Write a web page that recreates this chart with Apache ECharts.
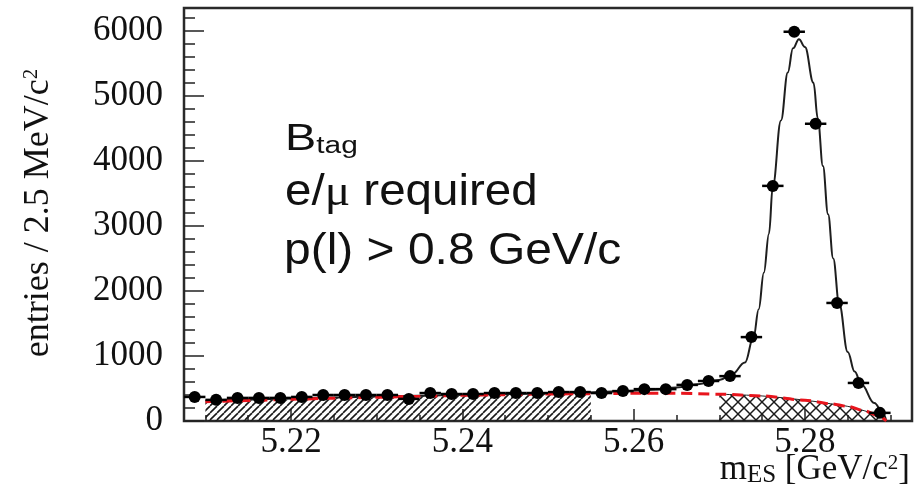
<!DOCTYPE html>
<html>
<head>
<meta charset="utf-8">
<script src="https://cdn.jsdelivr.net/npm/echarts@6/dist/echarts.min.js"></script>
<style>
  html, body { margin: 0; padding: 0; background: #fff; }
  #chart { width: 923px; height: 495px; }
</style>
</head>
<body>
<div id="chart"></div>
<script>
// m_ES histogram: bin centres (GeV/c^2, 2.5 MeV bins) and entries per bin
const binCenters = [5.20875, 5.21125, 5.21375, 5.21625, 5.21875, 5.22125, 5.22375, 5.22625,
  5.22875, 5.23125, 5.23375, 5.23625, 5.23875, 5.24125, 5.24375, 5.24625, 5.24875, 5.25125,
  5.25375, 5.25625, 5.25875, 5.26125, 5.26375, 5.26625, 5.26875, 5.27125, 5.27375, 5.27625,
  5.27875, 5.28125, 5.28375, 5.28625, 5.28875];
const entries = [370, 325, 355, 355, 355, 370, 400, 400, 400, 400, 340, 430, 415, 415, 430,
  430, 430, 445, 445, 430, 460, 490, 490, 555, 615, 690, 1290, 3615, 5985, 4570, 1815, 585, 125];
const binHalfWidth = 0.00125;

// Total fit (signal + background)
const fitMass = [5.2100, 5.2150, 5.2200, 5.2250, 5.2300, 5.2350, 5.2400, 5.2450, 5.2500, 5.2550,
  5.2600, 5.2625, 5.2650, 5.2675, 5.2700, 5.2715, 5.2730, 5.2740, 5.2746, 5.2752, 5.2758, 5.27625,
  5.2772, 5.2780, 5.2786, 5.2793, 5.2800, 5.2810, 5.2815, 5.2821, 5.2827, 5.2833, 5.2840,
  5.2850, 5.2858, 5.2866, 5.2881, 5.2891, 5.2895];
const fitValue = [310, 330, 345, 360, 375, 390, 405, 415, 425, 440,
  465, 485, 515, 565, 630, 720, 900, 1290, 1720, 2280, 2880, 3615,
  4620, 5360, 5730, 5870, 5750, 5200, 4650, 3920, 3180, 2500, 1800,
  1060, 760, 560, 277, 123, 0];

// ARGUS background component
const bkgMass = [5.2100, 5.2150, 5.2200, 5.2250, 5.2300, 5.2350, 5.2400, 5.2450, 5.2500, 5.2550,
  5.2600, 5.2650, 5.2700, 5.2750, 5.2800, 5.2830, 5.2850, 5.2870, 5.2885, 5.2895];
const bkgValue = [295, 315, 335, 350, 365, 380, 395, 405, 415, 420,
  425, 427, 412, 385, 320, 265, 225, 155, 85, 0];

// Sideband and signal-region windows
const sideband = [5.21, 5.255];
const signalRegion = [5.27, 5.2895];

// Axis ticks
const yTicks = [0, 1000, 2000, 3000, 4000, 5000, 6000];
const yMinorTicks = [200, 400, 600, 800, 1200, 1400, 1600, 1800, 2200, 2400, 2600, 2800,
  3200, 3400, 3600, 3800, 4200, 4400, 4600, 4800, 5200, 5400, 5600, 5800, 6200];
const xTicks = [5.22, 5.24, 5.26, 5.28];
const xMinorTicks = [5.21, 5.215, 5.225, 5.23, 5.235, 5.245, 5.25, 5.255, 5.265, 5.27, 5.275, 5.285, 5.29];

const zip = (xs, ys) => xs.map((x, i) => [x, ys[i]]);
const histData = zip(binCenters, entries);
const fitData = zip(fitMass, fitValue);
const bkgData = zip(bkgMass, bkgValue);
const sidebandData = bkgData.filter(p => p[0] >= sideband[0] && p[0] <= sideband[1]);
const signalData = bkgData.filter(p => p[0] >= signalRegion[0] && p[0] <= signalRegion[1]);

// Hatch tiles used as repeating fill patterns
function makeHatch(size, dirs, width) {
  const c = document.createElement('canvas');
  c.width = size; c.height = size;
  const g = c.getContext('2d');
  g.strokeStyle = '#1a1a1a';
  g.lineWidth = width;
  dirs.forEach(d => {
    [-1, 0, 1].forEach(k => {
      g.beginPath();
      if (d === '/') { g.moveTo(k * size, size); g.lineTo(k * size + size, 0); }
      else { g.moveTo(k * size, 0); g.lineTo(k * size + size, size); }
      g.stroke();
    });
  });
  return c;
}
const hatchSingle = makeHatch(7, ['/'], 1.6);
const hatchCross = makeHatch(12, ['/', '\\'], 1.5);

const serif = "'Liberation Serif', 'DejaVu Serif', serif";
const sans = "'Liberation Sans', Arial, sans-serif";
const ink = '#111';

const chart = echarts.init(document.getElementById('chart'), null, { renderer: 'canvas' });

chart.setOption({
  animation: false,
  backgroundColor: '#fff',
  grid: { left: 184, right: 11, top: 8, bottom: 74, show: true, borderColor: '#2a2a2a', borderWidth: 2.5, backgroundColor: 'transparent' },
  xAxis: [
    {
      type: 'value', min: 5.2075, max: 5.2925,
      axisLine: { show: false },
      splitLine: { show: false },
      axisTick: { show: true, inside: true, length: 12, customValues: xTicks, lineStyle: { color: '#222', width: 1.5 } },
      axisLabel: { show: true, customValues: xTicks, margin: 4, fontFamily: serif, fontSize: 35, color: ink,
        formatter: v => v.toFixed(2) }
    },
    {
      type: 'value', min: 5.2075, max: 5.2925, position: 'bottom',
      axisLine: { show: false }, splitLine: { show: false }, axisLabel: { show: false },
      axisTick: { show: true, inside: true, length: 6, customValues: xMinorTicks, lineStyle: { color: '#222', width: 1.5 } }
    }
  ],
  yAxis: [
    {
      type: 'value', min: 0, max: 6350,
      axisLine: { show: false },
      splitLine: { show: false },
      axisTick: { show: true, inside: true, length: 20, customValues: yTicks, lineStyle: { color: '#222', width: 1.5 } },
      axisLabel: { show: true, customValues: yTicks, margin: 21, fontFamily: serif, fontSize: 35, color: ink,
        formatter: v => String(v) }
    },
    {
      type: 'value', min: 0, max: 6350, position: 'left',
      axisLine: { show: false }, splitLine: { show: false }, axisLabel: { show: false },
      axisTick: { show: true, inside: true, length: 11, customValues: yMinorTicks, lineStyle: { color: '#222', width: 1.5 } }
    }
  ],
  series: [
    {
      name: 'sideband', type: 'line', data: sidebandData, symbol: 'none', silent: true, z: 1,
      smooth: 0.3, lineStyle: { width: 0 },
      areaStyle: { color: { image: hatchSingle, repeat: 'repeat' }, opacity: 1 }
    },
    {
      name: 'signal region', type: 'line', data: signalData, symbol: 'none', silent: true, z: 1,
      smooth: 0.3, lineStyle: { width: 1, color: '#222' },
      areaStyle: { color: { image: hatchCross, repeat: 'repeat' }, opacity: 1 }
    },
    {
      name: 'fit', type: 'line', data: fitData, symbol: 'none', z: 2,
      smooth: 0.4, smoothMonotone: 'x',
      lineStyle: { color: '#1e1e1e', width: 2 }
    },
    {
      name: 'background', type: 'line', data: bkgData, symbol: 'none', z: 3,
      smooth: 0.3, smoothMonotone: 'x',
      lineStyle: { color: '#e8141c', width: 3, type: [11, 6] }
    },
    {
      name: 'bin width', type: 'custom', data: histData, z: 4,
      renderItem: (params, api) => {
        const x = api.value(0), y = api.value(1);
        const a = api.coord([x - binHalfWidth, y]);
        const b = api.coord([x + binHalfWidth, y]);
        return { type: 'line', shape: { x1: a[0], y1: a[1], x2: b[0], y2: b[1] },
          style: { stroke: '#000', lineWidth: 2.5 } };
      }
    },
    {
      name: 'data', type: 'scatter', data: histData, z: 5,
      symbol: 'circle', symbolSize: 12, itemStyle: { color: '#000', opacity: 1 }
    }
  ],
  graphic: [
    {
      type: 'text', x: 39, y: 213, rotation: Math.PI / 2,
      style: {
        text: 'entries / 2.5 MeV/c{sup|2}', align: 'center', verticalAlign: 'middle',
        fontFamily: serif, fontSize: 36, fill: ink,
        rich: { sup: { fontFamily: serif, fontSize: 21, verticalAlign: 'top', fill: ink } }
      }
    },
    {
      type: 'text', x: 910, y: 470,
      style: {
        text: 'm{sub|ES} [GeV/c{sup|2}]', align: 'right', verticalAlign: 'middle',
        fontFamily: serif, fontSize: 35, fill: ink,
        rich: {
          sub: { fontFamily: serif, fontSize: 25, verticalAlign: 'bottom', fill: ink },
          sup: { fontFamily: serif, fontSize: 21, verticalAlign: 'top', fill: ink }
        }
      }
    },
    {
      type: 'text', x: 285, y: 140, scaleX: 1.3,
      style: {
        text: 'B{sub|tag}', align: 'left', verticalAlign: 'middle',
        fontFamily: sans, fontSize: 36, fill: ink,
        rich: { sub: { fontFamily: sans, fontSize: 23, verticalAlign: 'bottom', fill: ink } }
      }
    },
    {
      type: 'text', x: 285, y: 193, scaleX: 1.08,
      style: {
        text: 'e/{mu|\u03bc} required', align: 'left', verticalAlign: 'middle',
        fontFamily: sans, fontSize: 44, fill: ink,
        rich: { mu: { fontFamily: serif, fontSize: 44, fill: ink } }
      }
    },
    {
      type: 'text', x: 284, y: 252, scaleX: 1.09,
      style: {
        text: 'p(l) > 0.8 GeV/c', align: 'left', verticalAlign: 'middle',
        fontFamily: sans, fontSize: 44, fill: ink
      }
    }
  ]
});
</script>
</body>
</html>
